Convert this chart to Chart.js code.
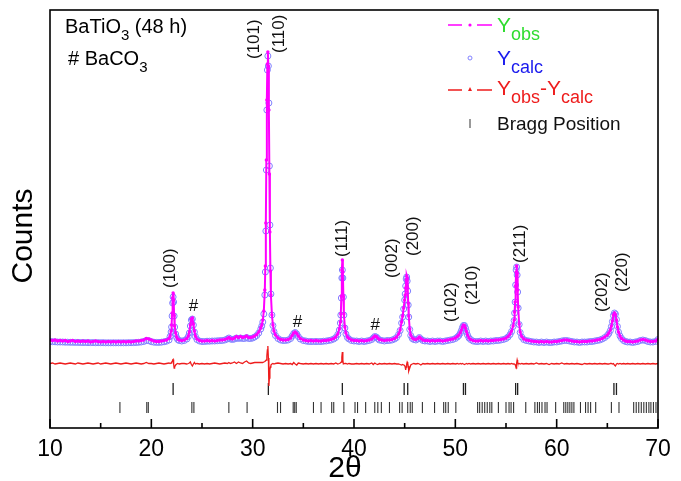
<!DOCTYPE html>
<html>
<head>
<meta charset="utf-8">
<script src="https://cdn.jsdelivr.net/npm/chart.js@4/dist/chart.umd.min.js"></script>
<style>
  html, body { margin: 0; padding: 0; background: #fff; }
</style>
</head>
<body>
<canvas id="xrd" width="681" height="481"></canvas>
<script>
// 2theta grid (deg) and the three profiles
const twoTheta = [
  10, 10.25, 10.5, 10.75, 11, 11.25, 11.5, 11.75, 12, 12.25, 12.5, 12.75, 13, 13.25, 13.5, 13.75,
  14, 14.25, 14.5, 14.75, 15, 15.25, 15.5, 15.75, 16, 16.25, 16.5, 16.75, 17, 17.25, 17.5, 17.75,
  18, 18.25, 18.5, 18.75, 19, 19.25, 19.5, 19.75, 20, 20.25, 20.5, 20.75, 21, 21.25, 21.5, 21.75,
  21.85, 21.95, 22.0, 22.05, 22.1, 22.15, 22.2, 22.25, 22.3, 22.4, 22.5, 22.6, 22.75, 23.0,
  23.25, 23.5, 23.65, 23.75, 23.85, 23.95, 24.05, 24.15, 24.25, 24.35, 24.5, 24.75, 25.0,
  25.25, 25.5, 25.75, 26, 26.25, 26.5, 26.75, 27, 27.25, 27.5, 27.65, 27.8, 28, 28.2, 28.4, 28.6,
  28.8, 29, 29.2, 29.4, 29.6, 29.8, 30, 30.2, 30.4, 30.6, 30.8,
  30.9, 31.0, 31.1, 31.2, 31.25, 31.3, 31.35, 31.4, 31.45, 31.5, 31.55, 31.6, 31.65, 31.7, 31.75, 31.8,
  31.9, 32.0, 32.1, 32.25, 32.5, 32.75, 33.0,
  33.25, 33.5, 33.75, 33.9, 34.05, 34.2, 34.35, 34.5, 34.7, 35.0, 35.25, 35.5, 35.75, 36, 36.25, 36.5,
  36.75, 37, 37.25, 37.5, 37.75, 38.0, 38.2, 38.4,
  38.55, 38.65, 38.7, 38.75, 38.8, 38.85, 38.9, 38.95, 39.0, 39.1, 39.2, 39.35, 39.5, 39.75,
  40, 40.25, 40.5, 40.75, 41, 41.25, 41.5, 41.75, 41.9, 42.05, 42.2, 42.35, 42.5, 42.75, 43, 43.25,
  43.5, 43.75, 44, 44.2, 44.4, 44.55, 44.7,
  44.8, 44.9, 45.0, 45.05, 45.1, 45.15, 45.2, 45.25, 45.3, 45.35, 45.4, 45.5, 45.6, 45.75, 45.9, 46.1,
  46.3, 46.45, 46.6, 46.8, 47.0,
  47.25, 47.5, 47.75, 48, 48.25, 48.5, 48.75, 49, 49.25, 49.5, 49.75, 50, 50.2,
  50.35, 50.5, 50.6, 50.7, 50.8, 50.9, 51.0, 51.1, 51.2, 51.35, 51.5, 51.75, 52.0,
  52.25, 52.5, 52.75, 53, 53.25, 53.5, 53.75, 54, 54.25, 54.5, 54.75, 55, 55.2, 55.4, 55.55, 55.7,
  55.8, 55.85, 55.9, 55.95, 56.0, 56.05, 56.1, 56.15, 56.2, 56.3, 56.4, 56.55, 56.75, 57.0,
  57.25, 57.5, 57.75, 58, 58.25, 58.5, 58.75, 59, 59.25, 59.5, 59.75, 60, 60.25, 60.5, 60.75, 61,
  61.25, 61.5, 61.75, 62, 62.25, 62.5, 62.75, 63, 63.25, 63.5, 63.75, 64, 64.25, 64.5, 64.75, 65,
  65.15, 65.3,
  65.4, 65.5, 65.6, 65.7, 65.8, 65.9, 66.0, 66.1, 66.25, 66.4, 66.6, 66.8,
  67, 67.25, 67.5, 67.75, 68, 68.25, 68.5, 68.75, 69, 69.25, 69.5, 69.75, 70
];

const yObs = [
  88, 87.5, 88, 87, 87.5, 87, 87.5, 86.5, 87, 87.5, 86.5, 87, 86.5, 87, 86.5, 87,
  86, 86.5, 87, 86.5, 86, 86.5, 86, 86.5, 86, 86.5, 86, 86.5, 86, 86.5, 86, 86.5,
  86, 86.5, 87, 87, 87.5, 88, 89.5, 89, 88, 87, 86.5, 86.5, 87, 87.5, 88, 89.5,
  92, 97, 103, 115, 130, 135, 128, 113, 102, 95, 91, 89, 88, 87.5,
  88, 89.5, 92, 96, 103, 109, 110, 104, 97, 92, 89, 87.5, 87,
  87, 87.5, 87, 87.5, 87, 87.5, 88, 88, 88.5, 89.5, 90.5, 89.5, 89, 90, 91.5, 90.5,
  91.5, 90.5, 91, 92, 90.5, 90.5, 91, 92, 93.5, 96, 100,
  103, 108, 117, 138, 162, 205, 268, 328, 364, 376, 362, 318, 254, 196, 157, 133,
  113, 103, 97, 93, 90, 88.5, 88,
  88, 88.5, 90, 92.5, 95, 96, 94.5, 92, 89.5, 88, 87.5, 87, 87.5, 87, 87.5, 87,
  87, 87.5, 87.5, 88, 88.5, 89.5, 91, 94,
  99, 106, 114, 132, 158, 168, 156, 132, 114, 101, 95, 91, 89.5, 88,
  87.5, 87.5, 87, 87.5, 87, 87.5, 88, 89, 90.5, 92, 91.5, 90, 88.5, 88, 87.5, 88,
  88, 88.5, 89.5, 91, 94, 98, 106,
  112, 120, 128, 133, 140, 148, 152, 150, 140, 125, 112, 99, 93, 90, 89, 88.5,
  89.5, 91, 89.5, 88, 87.5,
  87.5, 87, 87.5, 87, 87.5, 87.5, 87, 87.5, 88, 88.5, 89, 90, 91.5,
  93, 95.5, 98, 101, 103, 102.5, 100, 96.5, 93, 90, 88.5, 87.5, 87,
  87, 87.5, 87, 87.5, 87, 87.5, 87.5, 88, 88, 88.5, 89, 90, 91.5, 94, 97, 102,
  108, 116, 126, 142, 156, 162, 155, 138, 121, 104, 96, 91.5, 89, 88,
  87.5, 87, 86.5, 86.5, 86, 86.5, 86, 86.5, 86, 86, 86.5, 86.5, 87, 87.5, 88, 88,
  87.5, 87, 86.5, 86.5, 86, 86.5, 86.5, 86.5, 87, 87, 87.5, 88, 88.5, 89.5, 91, 93,
  95, 98,
  102, 107, 113, 115, 113.5, 108, 101, 96, 92, 89.5, 88, 87,
  86.5, 86.5, 86, 86.5, 87, 88, 88.5, 88, 87, 86.5, 86.5, 87, 89
];

const yCalc = [
  86.5, 86.3, 86.2, 86, 86, 86, 85.8, 85.8, 85.7, 85.7, 85.6, 85.6, 85.5, 85.5, 85.5, 85.4,
  85.4, 85.4, 85.3, 85.3, 85.3, 85.3, 85.2, 85.2, 85.2, 85.2, 85.2, 85.2, 85.2, 85.2, 85.2, 85.3,
  85.3, 85.4, 85.5, 85.7, 86, 86.5, 87.5, 87.3, 86.3, 85.8, 85.6, 85.6, 85.8, 86.2, 86.8, 88,
  91.5, 96, 101, 112, 125, 131, 126, 112, 101, 94, 90.5, 88.5, 87.5, 87,
  87.5, 89, 91.5, 95, 102, 108, 109, 103, 96, 91.5, 88.5, 87, 86.5,
  86.5, 86.8, 86.8, 87, 87, 87.2, 87.4, 87.5, 88, 89, 90, 89, 88.5, 89, 90, 89.5,
  90, 89.5, 89.5, 90.5, 89.5, 89.5, 90, 91, 92.5, 95, 99,
  102, 106, 114, 133, 156, 197, 258, 318, 358, 372, 362, 325, 262, 203, 160, 134,
  113, 102.5, 96.5, 92.5, 89.5, 88, 87.5,
  87.5, 88, 89.5, 92, 94.5, 95.5, 94, 91.5, 89, 87.5, 87, 86.5, 86.5, 86.5, 86.5, 86.5,
  86.5, 86.8, 87, 87.5, 88, 89, 90.5, 93.5,
  98, 105, 113, 130, 150, 158, 150, 131, 113, 100, 94, 90.5, 89, 87.5,
  87, 87, 86.5, 87, 86.5, 87, 87.5, 88.5, 90, 91.5, 91, 89.5, 88, 87.5, 87, 87.5,
  87.5, 88, 89, 90.5, 93.5, 97.5, 105,
  111, 119, 128, 134, 142, 149, 151, 147, 137, 123, 111, 98.5, 92.5, 89.5, 88.5, 88,
  89, 90.5, 89, 87.5, 87,
  87, 86.5, 87, 86.5, 87, 87, 86.5, 87, 87.5, 88, 88.5, 89.5, 91,
  92.5, 95, 97.5, 100.5, 102.5, 102.5, 100, 96.5, 93, 90, 88.5, 87, 86.5,
  86.5, 87, 86.5, 87, 86.5, 87, 87, 87.5, 87.5, 88, 88.5, 89.5, 91, 93.5, 96.5, 101.5,
  107.5, 115, 126, 143, 158, 161, 153, 136, 120, 103.5, 95.5, 91, 88.5, 87.5,
  87, 86.5, 86, 86, 85.5, 86, 85.5, 86, 85.5, 85.5, 86, 86, 86.5, 87, 87.5, 87.5,
  87, 86.5, 86, 86, 85.5, 86, 86, 86, 86.5, 86.5, 87, 87.5, 88, 89, 90.5, 92.5,
  94.5, 97.5,
  101.5, 106.5, 112.5, 115, 114, 108.5, 101.5, 96, 92, 89.5, 87.5, 86.5,
  86, 86, 85.5, 86, 86.5, 87.5, 88, 87.5, 86.5, 86, 86, 86.5, 88.5
];

// Yobs - Ycalc, drawn with its own offset as in the figure
const yDiff = [
  64.5, 65, 64, 64.5, 65, 64.5, 64, 64.5, 65, 64.5, 64, 65, 64.5, 64, 64.5, 65,
  64.5, 64, 64.5, 65, 64, 64.5, 65, 64.5, 64, 64.5, 65, 64.5, 64, 64.5, 65, 64.5,
  64, 64.5, 65, 64.5, 64, 64.5, 65.5, 64.5, 64.5, 64, 64.5, 65, 64.5, 64, 64.5, 65,
  64.5, 65, 65.5, 66.5, 68, 68.5, 64, 60, 61, 63, 64, 64.5, 64, 64.5,
  64.5, 64, 64.5, 65, 66, 63.5, 62, 64, 65.5, 64, 64.5, 64, 64.5,
  64, 64.5, 64, 64.5, 65, 64.5, 64, 64.5, 65, 64.5, 65.5, 64.5, 65, 66, 64.5, 66,
  65, 64.5, 66, 67, 65, 64.5, 65, 65.5, 65.5, 65.5, 65.5,
  65.5, 65.5, 66, 66.5, 67, 67, 68, 72, 78, 82, 70, 42, 50, 58, 61, 63,
  64, 64.5, 64, 64.5, 65, 64.5, 64,
  64.5, 64, 64.5, 63.5, 65.5, 64, 63, 65, 64.5, 64, 64.5, 64, 64.5, 64, 64.5, 64,
  64.5, 64, 64.5, 64, 64.5, 64, 65, 64,
  64.5, 65, 65, 66, 71, 76, 68, 64, 64, 64.5, 64.5, 64, 64.5, 64,
  64, 64.5, 64, 64.5, 64, 64.5, 64, 65, 63.5, 65, 64, 63.5, 64.5, 64, 64.5, 64,
  64.5, 64, 64.5, 64, 64, 63.5, 63,
  63.5, 63, 62.5, 61, 58, 61, 64, 66, 65, 62, 57, 60, 63, 64, 64.5, 64,
  64.5, 64, 63, 64.5, 64,
  64.5, 64, 64.5, 64, 64.5, 64, 64.5, 64, 64.5, 64, 64.5, 64, 64.5,
  64, 64.5, 64, 64.5, 64, 63.5, 64, 64.5, 64, 64.5, 64, 64.5, 64,
  64.5, 64, 64.5, 64, 64.5, 64, 64.5, 64, 64.5, 64, 64.5, 64, 64.5, 64, 64.5, 64,
  64, 64, 63.5, 62, 60, 65, 68, 66, 64, 64.5, 64, 64.5, 64, 64.5,
  64, 64.5, 64, 65, 64, 64.5, 64, 64.5, 63.5, 64.5, 64, 64.5, 64, 65, 64, 64.5,
  64, 64.5, 64, 64.5, 64, 63.5, 64.5, 64, 64.5, 64, 64.5, 64, 64.5, 64, 64.5, 64,
  64, 64.5,
  64.5, 64, 64.5, 63, 62, 64, 64.5, 64, 64.5, 64, 64.5, 64,
  64.5, 64, 64.5, 64, 64.5, 64, 64.5, 64, 64.5, 64, 64.5, 64, 64.5
];

// Bragg reflections: upper row BaTiO3, lower row BaCO3
const braggBaTiO3 = [22.15, 31.55, 38.85, 44.95, 45.3, 50.8, 51.0, 55.95, 56.15, 65.65, 65.9];
const braggBaCO3 = [
  16.9, 19.55, 19.7, 24.0, 24.2, 27.65, 29.45, 32.45, 32.75, 34.0, 34.15, 34.3, 36.0, 36.75,
  37.8, 38.0, 39.0, 40.1, 40.35, 41.15, 42.05, 42.35, 42.7, 43.5, 44.5, 44.75, 45.3, 45.55,
  45.75, 46.75, 47.95, 48.85, 49.05, 49.3, 50.05, 52.2, 52.4, 52.65, 52.9, 53.15, 53.4, 53.6,
  54.25, 55.0, 55.3, 55.5, 55.75, 56.95, 57.85, 58.1, 58.3, 58.55, 58.85, 59.05, 59.9, 60.7,
  60.9, 61.1, 61.3, 61.5, 61.7, 62.35, 62.85, 63.1, 63.35, 63.85, 65.4, 66.15, 67.6, 67.85,
  68.1, 68.35, 68.6, 68.85, 69.1, 69.3, 69.55, 69.8
];

// peak labels: text, 2theta of the label, counts at the foot of the rotated text
const peakLabels = ['(100)', '(101)', '(110)', '(111)', '(002)', '(200)', '(102)', '(210)', '(211)', '(202)', '(220)'];
const peakLabelX = [21.92, 30.2, 32.65, 38.85, 43.82, 45.84, 49.59, 51.66, 56.38, 64.46, 66.43];
const peakLabelY = [140, 369, 375, 171, 150, 172, 106, 123, 165, 116, 136];
const hashX = [24.16, 34.41, 42.1];
const hashY = [122, 106, 103];

const FONT = '"Liberation Sans", Arial, Helvetica, sans-serif';
Chart.defaults.font.family = FONT;

const xy = (ys) => twoTheta.map((x, i) => ({x: x, y: ys[i]}));
const rowPts = (list, level) => list.map(x => ({x: x, y: level}));

function drawRuns(ctx, x, y, runs) {
  runs.forEach(r => {
    ctx.font = (r.size || 20) + 'px ' + FONT;
    ctx.fillStyle = r.color || '#000';
    ctx.fillText(r.t, x, y + (r.dy || 0));
    x += ctx.measureText(r.t).width;
  });
}

const decor = {
  id: 'decor',
  afterDraw(chart) {
    const {ctx, chartArea: a, scales: {x, y}} = chart;
    ctx.save();
    ctx.strokeStyle = '#000';
    ctx.lineWidth = 1.6;
    ctx.strokeRect(a.left, a.top, a.right - a.left, a.bottom - a.top);
    // ticks point into the plot
    for (let v = 10; v <= 70; v += 5) {
      const px = x.getPixelForValue(v);
      const len = v % 10 === 0 ? 9 : 5;
      ctx.beginPath();
      ctx.moveTo(px, a.bottom);
      ctx.lineTo(px, a.bottom - len);
      ctx.stroke();
    }

    ctx.fillStyle = '#000';
    ctx.textAlign = 'center';
    ctx.textBaseline = 'middle';
    // axis titles
    ctx.font = '30px ' + FONT;
    ctx.fillText('2θ', 345, 469);
    ctx.save();
    ctx.translate(24, 236);
    ctx.rotate(-Math.PI / 2);
    ctx.fillText('Counts', 0, 0);
    ctx.restore();

    // peak indices
    ctx.font = '17px ' + FONT;
    ctx.fillStyle = '#111';
    peakLabels.forEach((t, i) => {
      ctx.save();
      ctx.translate(x.getPixelForValue(peakLabelX[i]), y.getPixelForValue(peakLabelY[i]));
      ctx.rotate(-Math.PI / 2);
      ctx.textAlign = 'left';
      ctx.fillText(t, 0, 0);
      ctx.restore();
    });
    hashX.forEach((v, i) => {
      ctx.fillText('#', x.getPixelForValue(v), y.getPixelForValue(hashY[i]));
    });

    // sample text, top left
    ctx.textAlign = 'left';
    ctx.textBaseline = 'alphabetic';
    drawRuns(ctx, 65, 33, [{t: 'BaTiO', size: 20}, {t: '3', size: 15, dy: 7}, {t: ' (48 h)', size: 20}]);
    drawRuns(ctx, 68, 65, [{t: '# BaCO', size: 20}, {t: '3', size: 15, dy: 7}]);

    // legend
    const lx1 = 448, lx2 = 492, mid = 470;
    ctx.lineWidth = 1.5;
    ctx.strokeStyle = '#ff00ff';
    ctx.beginPath(); ctx.moveTo(lx1, 25); ctx.lineTo(462, 25); ctx.moveTo(477, 25); ctx.lineTo(lx2, 25); ctx.stroke();
    ctx.fillStyle = '#ff00ff';
    ctx.beginPath(); ctx.arc(mid, 25, 1.6, 0, Math.PI * 2); ctx.fill();

    ctx.strokeStyle = '#8080ff';
    ctx.lineWidth = 1;
    ctx.beginPath(); ctx.arc(mid, 58, 2, 0, Math.PI * 2); ctx.stroke();

    ctx.strokeStyle = '#ee1c1c';
    ctx.lineWidth = 1.5;
    ctx.beginPath(); ctx.moveTo(lx1, 90); ctx.lineTo(462, 90); ctx.moveTo(477, 90); ctx.lineTo(lx2, 90); ctx.stroke();
    ctx.fillStyle = '#ee1c1c';
    ctx.beginPath(); ctx.moveTo(mid - 2, 91); ctx.lineTo(mid + 2, 91); ctx.lineTo(mid, 87); ctx.closePath(); ctx.fill();

    ctx.strokeStyle = '#555';
    ctx.lineWidth = 1.2;
    ctx.beginPath(); ctx.moveTo(mid, 119); ctx.lineTo(mid, 128); ctx.stroke();

    const tx = 497;
    drawRuns(ctx, tx, 32, [{t: 'Y', size: 21, color: '#2fdc2f'}, {t: 'obs', size: 18, dy: 8, color: '#2fdc2f'}]);
    drawRuns(ctx, tx, 65, [{t: 'Y', size: 21, color: '#1a1aee'}, {t: 'calc', size: 18, dy: 8, color: '#1a1aee'}]);
    drawRuns(ctx, tx, 95, [{t: 'Y', size: 21, color: '#ee1c1c'}, {t: 'obs', size: 18, dy: 8, color: '#ee1c1c'},
      {t: '-', size: 21, color: '#ee1c1c'}, {t: 'Y', size: 21, color: '#ee1c1c'}, {t: 'calc', size: 18, dy: 8, color: '#ee1c1c'}]);
    drawRuns(ctx, tx, 130, [{t: 'Bragg Position', size: 19, color: '#111'}]);
    ctx.restore();
  }
};

new Chart(document.getElementById('xrd'), {
  type: 'scatter',
  data: {
    datasets: [
      {
        label: 'Yobs',
        data: xy(yObs),
        showLine: true,
        borderColor: '#ff00ff',
        borderWidth: 2,
        pointRadius: 1.7,
        pointBackgroundColor: '#ff00ff',
        pointBorderWidth: 0
      },
      {
        label: 'Ycalc',
        data: xy(yCalc),
        showLine: false,
        pointRadius: 3,
        pointBackgroundColor: 'rgba(255,255,255,0)',
        pointBorderColor: '#8080ff',
        pointBorderWidth: 1
      },
      {
        label: 'Yobs-Ycalc',
        data: xy(yDiff),
        showLine: true,
        borderColor: '#ee1c1c',
        borderWidth: 1.3,
        pointRadius: 0
      },
      {
        label: 'Bragg BaTiO3',
        data: rowPts(braggBaTiO3, 39),
        showLine: false,
        pointStyle: 'line',
        rotation: 90,
        pointRadius: 6,
        pointBorderColor: '#222',
        pointBorderWidth: 1.3
      },
      {
        label: 'Bragg BaCO3',
        data: rowPts(braggBaCO3, 20.5),
        showLine: false,
        pointStyle: 'line',
        rotation: 90,
        pointRadius: 5.5,
        pointBorderColor: '#333',
        pointBorderWidth: 1.1
      }
    ]
  },
  options: {
    responsive: false,
    animation: false,
    events: [],
    layout: {padding: {left: 50, right: 23, top: 10, bottom: 0}},
    scales: {
      x: {
        type: 'linear',
        position: 'bottom',
        min: 10,
        max: 70,
        grid: {display: false, drawTicks: false},
        border: {display: false},
        ticks: {stepSize: 10, padding: 8, color: '#000', font: {size: 23}},
        afterFit(scale) { scale.height = 53; }
      },
      y: {
        type: 'linear',
        display: false,
        min: 0,
        max: 418
      }
    },
    plugins: {
      legend: {display: false},
      tooltip: {enabled: false}
    }
  },
  plugins: [decor]
});
</script>
</body>
</html>
